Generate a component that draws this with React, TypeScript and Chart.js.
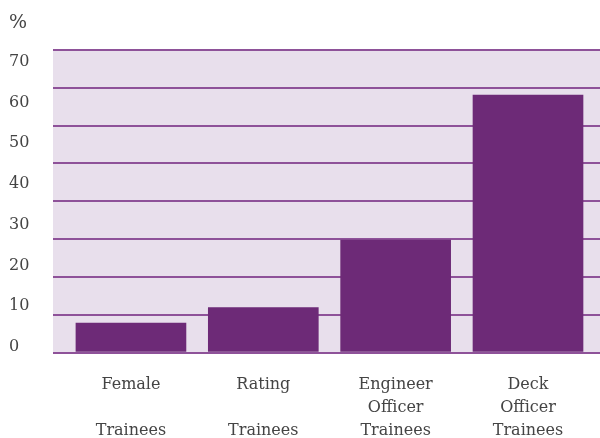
import React, { useEffect, useRef } from "react";
import { Chart, registerables } from "chart.js";

Chart.register(...registerables);

const categories: string[][] = [
  ["Female", "", "Trainees"],
  ["Rating", "", "Trainees"],
  ["Engineer", "Officer", "Trainees"],
  ["Deck", "Officer", "Trainees"],
];
const values: number[] = [7.8, 11.9, 29.7, 68.1];
const yTickLabels: number[] = [0, 10, 20, 30, 40, 50, 60, 70];
const unitLabel = "%";

const FONT = "'DejaVu Serif', serif";
const TEXT = "#444444";

const bgPlugin = {
  id: "plotBg",
  beforeDraw(chart: any) {
    const { ctx, chartArea } = chart;
    ctx.save();
    ctx.fillStyle = "#E8DFEC";
    ctx.fillRect(chartArea.left, chartArea.top, chartArea.right - chartArea.left, chartArea.bottom - chartArea.top);
    ctx.restore();
  },
};

export default function App() {
  const ref = useRef<HTMLCanvasElement | null>(null);
  useEffect(() => {
    document.body.style.margin = "0";
    const c = ref.current!;
    const chart = new Chart(c, {
      type: "bar",
      data: {
        datasets: [
          {
            data: values.map((v, i) => ({ x: i, y: v })),
            backgroundColor: "#6D2A77",
            barThickness: 110,
            yAxisID: "y",
          },
        ],
      },
      options: {
        animation: false,
        responsive: false,
        maintainAspectRatio: false,
        layout: { padding: { left: 9, right: 0, top: 0, bottom: 0 } },
        plugins: {
          legend: { display: false },
          tooltip: { enabled: false },
          title: {
            display: true,
            text: unitLabel,
            align: "start",
            color: TEXT,
            font: { family: FONT, size: 19, weight: "normal" },
            padding: { top: 11.6, bottom: 15.6 },
          },
        },
        scales: {
          x: {
            type: "linear",
            offset: false,
            min: -0.589,
            max: 3.544,
            grid: { display: false, drawTicks: false },
            border: { display: false },
            afterBuildTicks: (s: any) => {
              s.ticks = categories.map((_, i) => ({ value: i }));
            },
            afterFit: (s: any) => {
              s.height = 85.5;
            },
            ticks: {
              autoSkip: false,
              maxRotation: 0,
              padding: 21,
              color: TEXT,
              font: { family: FONT, size: 16, lineHeight: "22.8px" },
              callback: (v: any) => categories[Math.round(Number(v))] ?? "",
            },
          },
          y: {
            type: "linear",
            position: "left",
            min: 0,
            max: 80,
            ticks: { display: false, stepSize: 10 },
            grid: { color: "#8E5299", lineWidth: 2, drawTicks: false },
            border: { display: false },
            afterFit: (s: any) => {
              s.width = 0;
            },
          },
          y2: {
            type: "linear",
            position: "left",
            min: -1.35,
            max: 72.87,
            grid: { display: false, drawTicks: false },
            border: { display: false },
            afterBuildTicks: (s: any) => {
              s.ticks = yTickLabels.map((v) => ({ value: v }));
            },
            afterFit: (s: any) => {
              s.width = 44;
            },
            ticks: {
              crossAlign: "far",
              color: TEXT,
              font: { family: FONT, size: 16 },
              callback: (v: any) => String(v),
            },
          },
        },
      },
      plugins: [bgPlugin],
    });
    return () => chart.destroy();
  }, []);
  return <canvas ref={ref} width={600} height={438} style={{ display: "block", width: 600, height: 438 }} />;
}
